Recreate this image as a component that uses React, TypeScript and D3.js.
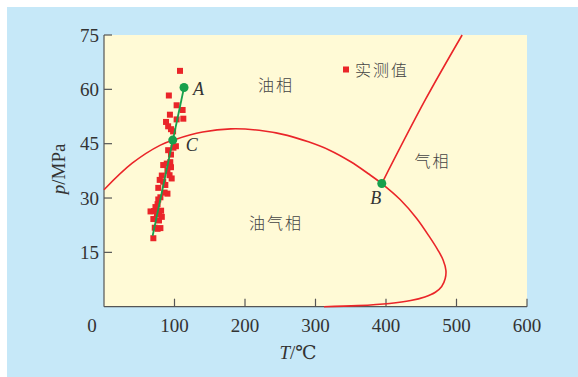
import React from "react";
import * as d3 from "d3";

// measured data points (T in °C, p in MPa)
const measured: [number, number][] = [
  [107.8, 65.1], [92, 58.3], [103, 55.6], [111.5, 54.3], [93.5, 53], [112.5, 51.9],
  [103, 51.7], [88, 51], [91, 49.8], [95, 49], [98, 48.4], [102, 44.3], [98.5, 43.9],
  [91, 43.2], [95, 42], [84, 39.1], [89, 39.5], [94, 39.9], [95, 38.5], [90, 37.5],
  [93, 36.3], [82, 36.2], [96, 35.4], [79, 35], [84, 34.5], [87, 33.6], [77, 32.8],
  [90, 31.2], [86, 31.5], [80, 30.2], [77, 29.6], [76, 28.3], [73, 27.5], [66, 26.3],
  [71, 26.4], [78, 26.2], [81, 26.5], [75, 25.5], [82, 24.8], [70, 24.2], [78, 23.8],
  [72, 21.8], [76, 21.5], [80, 21.7], [70, 18.9],
];

// phase envelope (bubble + dew branch)
const envelope: [number, number][] = [
  [0, 32.3], [40, 39.6], [80, 44.6], [100, 46.1], [140, 48.2], [180, 49.1],
  [220, 48.7], [260, 47.3], [290, 45.5], [320, 43.2], [350, 40], [375, 36.7],
  [394, 34], [420, 29.6], [443, 24.5], [462, 19.2], [474, 15.5], [481, 12.9],
  [485, 10], [484, 7.8], [479, 5.6], [470, 4], [455, 2.7], [435, 1.7],
  [405, 0.9], [360, 0.3], [312, 0],
];

// line from B to the top edge
const branch: [number, number][] = [[394, 34], [456, 57.2], [508, 75]];

// trend line and named points
const trend: [number, number][] = [[69, 19.6], [113.5, 60.5]];
const named = [
  { id: "A", T: 113.5, p: 60.5, dx: 9, dy: 7, anchor: "start" },
  { id: "C", T: 97.5, p: 46, dx: 13, dy: 11, anchor: "start" },
  { id: "B", T: 394, p: 34, dx: -6, dy: 20, anchor: "middle" },
];

const xTicks = [100, 200, 300, 400, 500, 600];
const yTicks = [15, 30, 45, 60, 75];

const regions = [
  { text: "油相", T: 244, p: 59.5 },
  { text: "油气相", T: 244, p: 21.5 },
  { text: "气相", T: 466, p: 38.5 },
];

export default function App() {
  const W = 578;
  const H = 377;
  const x = d3.scaleLinear().domain([0, 600]).range([104, 527]);
  const y = d3.scaleLinear().domain([0, 75]).range([306.7, 35]);

  const line = d3
    .line<[number, number]>()
    .x((d) => x(d[0]))
    .y((d) => y(d[1]));
  const smooth = d3
    .line<[number, number]>()
    .x((d) => x(d[0]))
    .y((d) => y(d[1]))
    .curve(d3.curveCatmullRom.alpha(0.5));

  const serif = "'Liberation Serif', 'DejaVu Serif', serif";
  const cjk = "'Noto Sans CJK SC', sans-serif";
  const axisColor = "#555";
  const red = "#ea2529";
  const green = "#17a04c";

  return (
    <svg width={W} height={H} style={{ position: "absolute", left: 0, top: 0 }}>
      <rect x={7} y={7} width={W - 7} height={H - 7} fill="#c6e8f8" />
      <rect x={x(0)} y={y(75)} width={x(600) - x(0)} height={y(0) - y(75)} fill="#fffad6" />

      {/* axes */}
      <line x1={x(0)} x2={x(600)} y1={y(0)} y2={y(0)} stroke={axisColor} strokeWidth={1.2} />
      <line x1={x(0)} x2={x(0)} y1={y(0)} y2={y(75)} stroke={axisColor} strokeWidth={1.2} />
      {xTicks.map((t) => (
        <g key={"x" + t}>
          <line x1={x(t)} x2={x(t)} y1={y(0)} y2={y(0) - 8} stroke={axisColor} strokeWidth={1.2} />
          <text x={x(t)} y={332} textAnchor="middle" fontFamily={serif} fontSize={19} fill="#333">
            {t}
          </text>
        </g>
      ))}
      <text x={92} y={332} textAnchor="middle" fontFamily={serif} fontSize={19} fill="#333">
        0
      </text>
      {yTicks.map((t) => (
        <g key={"y" + t}>
          <line x1={x(0)} x2={x(0) + 8} y1={y(t)} y2={y(t)} stroke={axisColor} strokeWidth={1.2} />
          <text x={99} y={y(t) + 6.5} textAnchor="end" fontFamily={serif} fontSize={19} fill="#333">
            {t}
          </text>
        </g>
      ))}
      <text x={298} y={359} textAnchor="middle" fontFamily={serif} fontSize={19} fill="#333">
        <tspan fontStyle="italic">T</tspan>/℃
      </text>
      <text
        transform={`translate(65,${y(37.5) - 2}) rotate(-90)`}
        textAnchor="middle"
        fontFamily={serif}
        fontSize={19}
        fill="#333"
      >
        <tspan fontStyle="italic">p</tspan>/MPa
      </text>

      {/* phase envelope */}
      <path d={smooth(envelope) || ""} fill="none" stroke={red} strokeWidth={1.6} />
      <path d={smooth(branch) || ""} fill="none" stroke={red} strokeWidth={1.6} />

      {/* measured data */}
      {measured.map((d, i) => (
        <rect key={i} x={x(d[0]) - 3} y={y(d[1]) - 3} width={6} height={6} fill={red} />
      ))}

      <path d={line(trend) || ""} fill="none" stroke={green} strokeWidth={1.8} />
      {named.map((n) => (
        <g key={n.id}>
          <circle cx={x(n.T)} cy={y(n.p)} r={4.5} fill={green} />
          <text
            x={x(n.T) + n.dx}
            y={y(n.p) + n.dy}
            textAnchor={n.anchor as any}
            fontFamily={serif}
            fontStyle="italic"
            fontSize={18}
            fill="#333"
          >
            {n.id}
          </text>
        </g>
      ))}

      {regions.map((r) => (
        <text
          key={r.text}
          x={x(r.T)}
          y={y(r.p)}
          textAnchor="middle"
          fontFamily={cjk}
          fontWeight={300}
          fontSize={16}
          letterSpacing={2}
          fill="#444"
        >
          {r.text}
        </text>
      ))}

      {/* legend */}
      <rect x={343} y={66.5} width={6} height={6} fill={red} />
      <text x={355} y={75.5} fontFamily={cjk} fontWeight={300} fontSize={16} letterSpacing={2} fill="#444">
        实测值
      </text>
    </svg>
  );
}
